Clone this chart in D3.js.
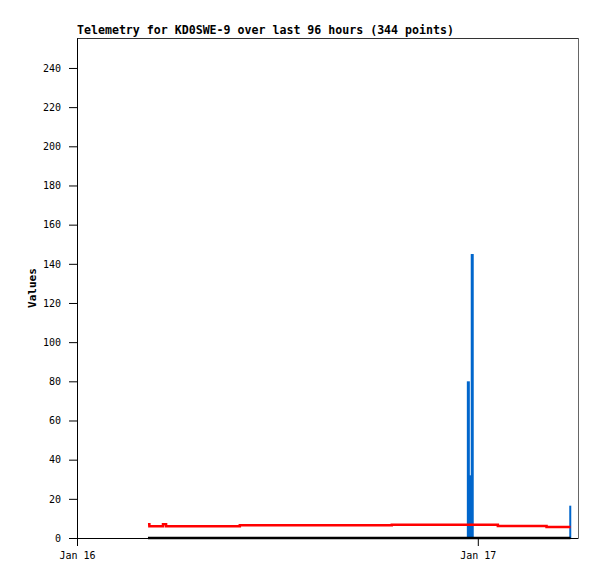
<!DOCTYPE html>
<html>
<head>
<meta charset="utf-8">
<style>
/*	page and chart styles	*/
body { margin: 0; background: #fff; }
svg { display: block; }
.title { font: bold 11.6px "DejaVu Sans Mono", monospace; }
.ylabel { font: bold 11px "DejaVu Sans Mono", monospace; }
.axis text { font: 10px "DejaVu Sans Mono", monospace; fill: #000; }
.axis path, .axis line { stroke: #000; }
</style>
</head>
<body>
<svg id="chart" width="597" height="579"></svg>

<script src="https://cdn.jsdelivr.net/npm/d3@7"></script>
<script>

//	data (times as "YYYY-MM-DD HH:MM")
var yTicks = [0, 20, 40, 60, 80, 100, 120, 140, 160, 180, 200, 220, 240];
var xTickTimes = ["2000-01-16 00:00", "2000-01-17 00:00"];
var xTickLabels = ["Jan 16", "Jan 17"];

// black series, flat at zero
var zeroTimes = ["2000-01-16 04:15", "2000-01-17 05:33"];
var zeroValues = [0, 0];

// red series, stepped
var redTimes = ["2000-01-16 04:15", "2000-01-16 04:20", "2000-01-16 05:09", "2000-01-16 05:20",
  "2000-01-16 09:45", "2000-01-16 18:51", "2000-01-17 01:12", "2000-01-17 04:07", "2000-01-17 05:33"];
var redValues = [7.0, 6.0, 7.0, 6.0, 6.5, 6.8, 6.1, 5.6, 5.6];

// blue series, drawn as impulses
var blueTimes = ["2000-01-16 23:26", "2000-01-16 23:33", "2000-01-16 23:40", "2000-01-17 05:34"];
var blueValues = [80, 32, 145, 16.5];

var parse = d3.timeParse("%Y-%m-%d %H:%M");

var svg = d3.select("#chart"),
    margin = {top: 38, right: 19, bottom: 41, left: 77},
    width = 597 - margin.left - margin.right,
    height = 579 - margin.top - margin.bottom;

var x = d3.scaleTime()
    .domain([parse("2000-01-16 00:00"), parse("2000-01-17 06:00")])
    .range([0, width]);

var y = d3.scaleLinear()
    .domain([0, 255.3])
    .range([height, 0]);

var g = svg.append("g")
    .attr("transform", "translate(" + margin.left + "," + margin.top + ")");

//	title and y label
svg.append("text")
    .attr("class", "title")
    .attr("x", margin.left)
    .attr("y", 34)
    .text("Telemetry for KD0SWE-9 over last 96 hours (344 points)");

svg.append("text")
    .attr("class", "ylabel")
    .attr("transform", "translate(36," + (margin.top + height / 2) + ") rotate(-90)")
    .attr("text-anchor", "middle")
    .text("Values");

//	frame: top and right borders
g.append("line")
    .attr("x1", 0).attr("x2", width).attr("y1", 0.5).attr("y2", 0.5)
    .attr("stroke", "#333");
g.append("line")
    .attr("x1", width + 0.5).attr("x2", width + 0.5).attr("y1", 0).attr("y2", height)
    .attr("stroke", "#666");

//	series
function pts(times, values) {
  return times.map(function(t, i) { return {t: parse(t), v: values[i]}; });
}

g.selectAll(".impulse")
  .data(pts(blueTimes, blueValues))
  .enter().append("rect")
    .attr("class", "impulse")
    .attr("x", function(d) { return x(d.t) - 1.5; })
    .attr("width", function(d, i) { return i == 3 ? 2 : 3; })
    .attr("y", function(d) { return y(d.v); })
    .attr("height", function(d) { return height - y(d.v); })
    .attr("fill", "#0066cc");

var line = d3.line()
    .x(function(d) { return x(d.t); })
    .y(function(d) { return y(d.v); })
    .curve(d3.curveStepAfter);

g.append("path")
    .datum(pts(redTimes, redValues))
    .attr("d", line)
    .attr("fill", "none")
    .attr("stroke", "#ff0000")
    .attr("stroke-width", 2.5);

//	axes
g.append("g")
    .attr("class", "axis")
    .attr("transform", "translate(0," + height + ")")
    .call(d3.axisBottom(x)
      .tickValues(xTickTimes.map(parse))
      .tickFormat(function(d, i) { return xTickLabels[i]; })
      .tickSize(8).tickSizeOuter(0).tickPadding(6));

g.append("g")
    .attr("class", "axis")
    .call(d3.axisLeft(y)
      .tickValues(yTicks)
      .tickSize(8).tickSizeOuter(0).tickPadding(8));

g.append("path")
    .datum(pts(zeroTimes, zeroValues))
    .attr("d", line)
    .attr("fill", "none")
    .attr("stroke", "#000")
    .attr("stroke-width", 2.5);
</script>
</body>
</html>
